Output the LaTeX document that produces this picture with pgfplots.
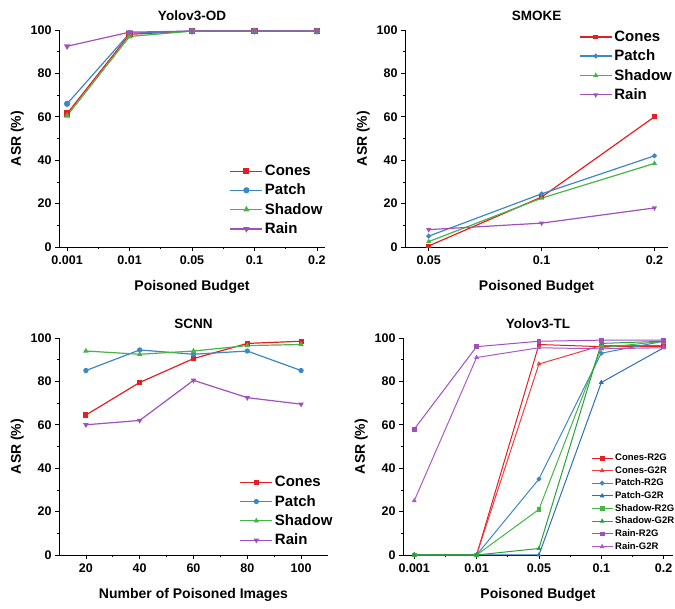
\documentclass[border=0pt]{standalone}
\usepackage{fontspec}
\setmainfont{Liberation Sans}
\usepackage{pgfplots}
\pgfplotsset{compat=1.18}

\definecolor{cred}{RGB}{230,30,35}
\definecolor{cblue}{RGB}{60,135,200}
\definecolor{cgreen}{RGB}{70,180,70}
\definecolor{cpurple}{RGB}{160,80,190}
\definecolor{cblue2}{RGB}{45,110,185}
\definecolor{cgreen2}{RGB}{40,160,60}
\definecolor{cred2}{RGB}{240,60,60}
\definecolor{cpurple2}{RGB}{170,90,200}

\pgfplotsset{
 panel/.style={
  scale only axis, height=217pt, axis lines=left,
  axis line style={-, line width=0.8pt, black},
  tick align=outside, tick style={black, line width=0.7pt},
  major tick length=4pt, minor tick length=2pt,
  ymin=0, ymax=100, ytick={0,20,...,100}, minor y tick num=1,
  ticklabel style={font=\fontsize{12.5}{14}\selectfont\bfseries},
  xticklabel style={yshift=-1.5pt},
  /pgf/number format/assume math mode=true,
  label style={font=\fontsize{14}{16}\selectfont\bfseries},
  xlabel style={yshift=-9pt},
  title style={font=\fontsize{13.5}{15}\selectfont\bfseries},
  ylabel={ASR (\%)},
  legend style={draw=none, fill=none, font=\fontsize{15}{17}\selectfont\bfseries, row sep=3pt, cells={anchor=west}},
  legend image code/.code={\draw[mark repeat=2,mark phase=2] plot coordinates {(0pt,0pt) (16pt,0pt) (32pt,0pt)};},
  clip=false,
  every axis plot/.append style={line width=1.2pt, mark size=2.5pt},
 },
 pcones/.style={color=cred, mark=square*},
 ppatch/.style={color=cblue, mark=*},
 pshadow/.style={color=cgreen, mark=triangle*},
 prain/.style={color=cpurple, mark=triangle*, mark options={rotate=180}},
}

\begin{document}
\begin{tikzpicture}
\useasboundingbox (0,0) rectangle (675pt,609pt);

% Panel 1: Yolov3-OD
\begin{axis}[panel, at={(59pt,362pt)}, anchor=south west, width=266pt,
  title={Yolov3-OD}, xlabel={Poisoned Budget},
  xmin=-0.13, xmax=4.13, xtick={0,...,4}, xticklabels={0.001,0.01,0.05,0.1,0.2}, minor x tick num=1,
  legend style={at={(0.63,0.035)}, anchor=south west}]
\addplot[pcones] coordinates {(0,61.5) (1,98) (2,99.5) (3,99.5) (4,99.5)};
\addlegendentry{Cones}
\addplot[ppatch] coordinates {(0,66) (1,98.5) (2,99.5) (3,99.5) (4,99.5)};
\addlegendentry{Patch}
\addplot[pshadow] coordinates {(0,60.5) (1,97) (2,99.5) (3,99.5) (4,99.5)};
\addlegendentry{Shadow}
\addplot[prain] coordinates {(0,92.5) (1,99) (2,99.5) (3,99.5) (4,99.5)};
\addlegendentry{Rain}
\end{axis}

% Panel 2: SMOKE
\begin{axis}[panel, at={(405pt,362pt)}, anchor=south west, width=263pt,
  title={SMOKE}, xlabel={Poisoned Budget},
  xmin=-0.21, xmax=2.12, xtick={0,1,2}, xticklabels={0.05,0.1,0.2}, minor x tick num=1,
  every axis plot/.append style={mark size=1.8pt},
  legend style={at={(0.65,1.015)}, anchor=north west}]
\addplot[pcones] coordinates {(0,0.5) (1,23) (2,60)};
\addlegendentry{Cones}
\addplot[ppatch] coordinates {(0,5) (1,24.5) (2,42)};
\addlegendentry{Patch}
\addplot[pshadow] coordinates {(0,2.5) (1,22.5) (2,38.5)};
\addlegendentry{Shadow}
\addplot[prain] coordinates {(0,8) (1,11) (2,18)};
\addlegendentry{Rain}
\end{axis}

% Panel 3: SCNN
\begin{axis}[panel, at={(59pt,54pt)}, anchor=south west, width=269pt,
  title={SCNN}, xlabel={Number of Poisoned Images},
  xmin=10, xmax=110, xtick={20,40,...,100}, minor x tick num=1,
  every axis plot/.append style={mark size=2pt},
  legend style={at={(0.66,0.02)}, anchor=south west}]
\addplot[pcones] coordinates {(20,64.5) (40,79.5) (60,90.5) (80,97.5) (100,98.5)};
\addlegendentry{Cones}
\addplot[ppatch] coordinates {(20,85) (40,94.5) (60,92.5) (80,94) (100,85)};
\addlegendentry{Patch}
\addplot[pshadow] coordinates {(20,94) (40,92.5) (60,94) (80,96.5) (100,97)};
\addlegendentry{Shadow}
\addplot[prain] coordinates {(20,60) (40,62) (60,80.5) (80,72.5) (100,69.5)};
\addlegendentry{Rain}
\end{axis}

% Panel 4: Yolov3-TL
\begin{axis}[panel, at={(403pt,54pt)}, anchor=south west, width=270pt,
  title={Yolov3-TL}, xlabel={Poisoned Budget},
  xmin=-0.18, xmax=4.15, xtick={0,...,4}, xticklabels={0.001,0.01,0.05,0.1,0.2}, minor x tick num=1,
  every axis plot/.append style={line width=1pt, mark size=1.9pt},
  legend style={at={(0.685,0.0)}, anchor=south west, font=\fontsize{9.5}{11}\selectfont\bfseries, row sep=0.3pt},
  legend image code/.code={\draw[mark repeat=2,mark phase=2] plot coordinates {(0pt,0pt) (10.5pt,0pt) (21pt,0pt)};}]
\addplot[color=cred, mark=square*] coordinates {(0,0) (1,0) (2,97) (3,96) (4,96)};
\addlegendentry{Cones-R2G}
\addplot[color=cred2, mark=triangle*] coordinates {(0,0) (1,0) (2,88) (3,96.5) (4,96.5)};
\addlegendentry{Cones-G2R}
\addplot[color=cblue, mark=*] coordinates {(0,0) (1,0) (2,35) (3,93) (4,98.5)};
\addlegendentry{Patch-R2G}
\addplot[color=cblue2, mark=triangle*] coordinates {(0,0) (1,0) (2,0) (3,79.5) (4,95.5)};
\addlegendentry{Patch-G2R}
\addplot[color=cgreen, mark=square*] coordinates {(0,0) (1,0) (2,21) (3,95.5) (4,98.5)};
\addlegendentry{Shadow-R2G}
\addplot[color=cgreen2, mark=triangle*] coordinates {(0,0) (1,0) (2,3) (3,97.5) (4,98.5)};
\addlegendentry{Shadow-G2R}
\addplot[color=cpurple, mark=square*] coordinates {(0,58) (1,96) (2,98.5) (3,99) (4,99)};
\addlegendentry{Rain-R2G}
\addplot[color=cpurple2, mark=triangle*] coordinates {(0,25) (1,91) (2,95.5) (3,95) (4,95.5)};
\addlegendentry{Rain-G2R}
\end{axis}
\end{tikzpicture}
\end{document}
